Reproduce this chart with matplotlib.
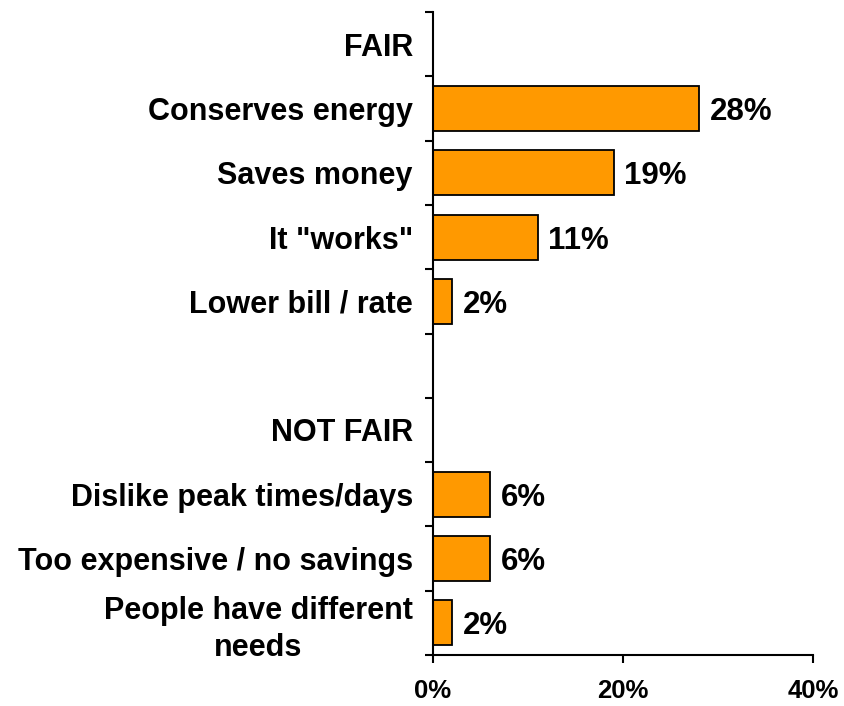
import numpy as np
import matplotlib.pyplot as plt

plt.rcParams['font.family'] = ['Liberation Sans', 'DejaVu Sans']
plt.rcParams['font.weight'] = 'bold'

# categories, top to bottom (blank rows are headers / spacer)
labels = ['FAIR', 'Conserves energy', 'Saves money', 'It "works"', 'Lower bill / rate',
          '', 'NOT FAIR', 'Dislike peak times/days', 'Too expensive / no savings',
          'People have different\nneeds']
values = [None, 28, 19, 11, 2, None, None, 6, 6, 2]
xticks = [0, 20, 40]

fig = plt.figure(figsize=(8.44, 7.06), dpi=100)
ax = fig.add_axes([433 / 844, 1 - 655 / 706, 380 / 844, 643 / 706])

n = len(labels)
pos = np.arange(n)[::-1] + 0.5
for p, v in zip(pos, values):
    if v is None:
        continue
    ax.barh(p, v, height=0.7, color='#FF9900', edgecolor='black', linewidth=1.3)
    ax.text(v + 1.1, p, f'{v}%', va='center_baseline', ha='left',
            fontsize=22.5, fontweight='bold')

ax.set_xlim(0, 40)
ax.set_ylim(0, n)
ax.set_xticks(xticks)
ax.set_xticklabels([f'{x}%' for x in xticks], fontsize=18.5, fontweight='bold')
ax.set_yticks(np.arange(n + 1))
ax.set_yticklabels([])
ax.set_yticks(pos, minor=True)
ax.set_yticklabels(labels, minor=True, fontsize=22, fontweight='bold',
                   multialignment='center', linespacing=1.3)
ax.tick_params(axis='y', which='minor', length=0, pad=14.5)
ax.tick_params(axis='y', which='major', length=6, width=1.5, direction='out')
ax.tick_params(axis='x', length=6, width=1.5, direction='out', pad=11)

for s in ['top', 'right']:
    ax.spines[s].set_visible(False)
for s in ['left', 'bottom']:
    ax.spines[s].set_linewidth(1.5)

fig.savefig('out.png', dpi=100)
